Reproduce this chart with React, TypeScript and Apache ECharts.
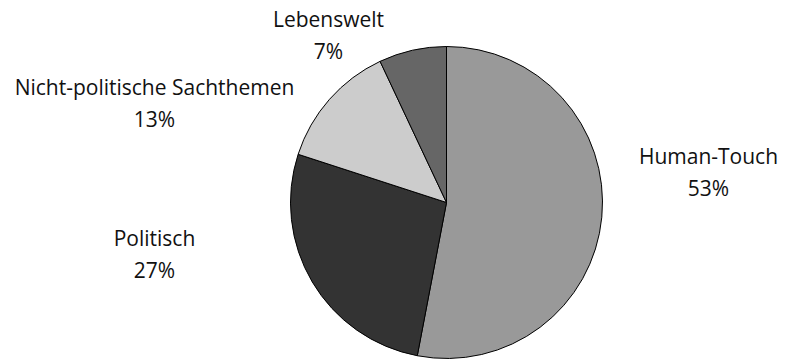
import React, { useEffect, useRef } from "react";
import * as echarts from "echarts";

// Share of topics (percent)
const categories = ["Human-Touch", "Politisch", "Nicht-politische Sachthemen", "Lebenswelt"];
const values = [53, 27, 13, 7];
const colors = ["#999999", "#333333", "#cccccc", "#666666"];

// Label placement relative to the pie centre (px)
const labelOffsets: [number, number][] = [
  [262, -31],
  [-292, 51],
  [-292, -100],
  [-118, -168],
];

export default function App() {
  const ref = useRef<HTMLDivElement>(null);

  useEffect(() => {
    if (!ref.current) return;
    const chart = echarts.init(ref.current, null, { renderer: "svg" });
    const cx = 446.5;
    const cy = 202.5;
    chart.setOption({
      animation: false,
      backgroundColor: "#ffffff",
      textStyle: { fontFamily: "Open Sans" },
      series: [
        {
          type: "pie",
          center: [cx, cy],
          radius: 156,
          startAngle: 90,
          clockwise: true,
          data: categories.map((name, i) => ({
            name,
            value: values[i],
            itemStyle: { color: colors[i] },
          })),
          itemStyle: { borderColor: "#000000", borderWidth: 1 },
          label: {
            show: true,
            position: "outside",
            alignTo: "none",
            overflow: "none",
            bleedMargin: 0,
            formatter: "{b}\n{c}%",
            color: "#111111",
            fontSize: 21,
            lineHeight: 32,
            fontFamily: "Open Sans",
            align: "center",
          },
          labelLine: { show: false },
          labelLayout: (params: any) => {
            const [dx, dy] = labelOffsets[params.dataIndex];
            return {
              x: cx + dx,
              y: cy + dy,
              align: "center",
              verticalAlign: "middle",
            };
          },
          emphasis: { disabled: true },
        },
      ],
    });
    return () => chart.dispose();
  }, []);

  return (
    <div
      ref={ref}
      style={{ position: "fixed", left: 0, top: 0, width: 785, height: 361 }}
    />
  );
}
